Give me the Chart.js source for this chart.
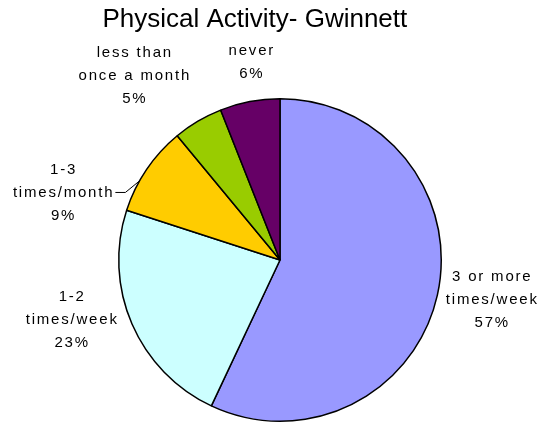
<!DOCTYPE html>
<html>
<head>
<meta charset="utf-8">
<title>Physical Activity- Gwinnett</title>
<script src="https://cdn.jsdelivr.net/npm/chart.js@4"></script>
<style>
  html, body { margin: 0; padding: 0; background: #fff; }
  canvas { display: block; }
</style>
</head>
<body>
<canvas id="pieChart" width="554" height="424"></canvas>
<script>
const chartTitle = "Physical Activity- Gwinnett";
const categories = [
    ["3 or more", "times/week"],
    ["1-2", "times/week"],
    ["1-3", "times/month"],
    ["less than", "once a month"],
    ["never"]
];
const percents = [57, 23, 9, 5, 6];
const sliceColors = ["#9999FF", "#CCFFFF", "#FFCC00", "#99CC00", "#660066"];

// label nudges from the radial anchor point (px)
const labelNudge = [[3, -7], [-11, -25], [-39, 53], [-36, 0], [12, 13]];

const labelPlugin = {
    id: "excelLabels",
    afterDraw(chart) {
        const ctx = chart.ctx;
        const arcs = chart.getDatasetMeta(0).data;
        ctx.save();
        ctx.fillStyle = "#000";
        ctx.textAlign = "center";
        ctx.textBaseline = "middle";

        // title
        ctx.font = "26px 'Liberation Sans', Arial, sans-serif";
        ctx.textBaseline = "alphabetic";
        ctx.fillText(chartTitle, chart.width * 0.46, 27);
        ctx.textBaseline = "middle";

        ctx.font = "15px 'Liberation Sans', Arial, sans-serif";
        if ("letterSpacing" in ctx) ctx.letterSpacing = "1.8px";
        arcs.forEach((arc, i) => {
            const mid = (arc.startAngle + arc.endAngle) / 2;
            const r = arc.outerRadius * 1.33;
            const x = arc.x + Math.cos(mid) * r + labelNudge[i][0];
            const lines = categories[i].concat([percents[i] + "%"]);
            const lh = 23;
            const y0 = arc.y + Math.sin(mid) * r + labelNudge[i][1] - (lines.length - 1) * lh / 2;
            lines.forEach((t, k) => ctx.fillText(t, x, y0 + k * lh));

            // leader line for the small slice on the left
            if (i === 2) {
                const w = ctx.measureText(lines[1]).width;
                const lx = x + w / 2 + 1;
                const ly = y0 + lh;
                const a = arc.startAngle + (arc.endAngle - arc.startAngle) * 0.35;
                const ex = arc.x + Math.cos(a) * arc.outerRadius;
                const ey = arc.y + Math.sin(a) * arc.outerRadius;
                ctx.strokeStyle = "#000";
                ctx.lineWidth = 1;
                ctx.beginPath();
                ctx.moveTo(lx, ly);
                ctx.lineTo(lx + 10, ly);
                ctx.lineTo(ex, ey);
                ctx.stroke();
            }
        });
        ctx.restore();
    }
};

new Chart(document.getElementById("pieChart"), {
    type: "pie",
    data: {
        labels: categories.map(c => c.join(" ")),
        datasets: [{
            data: percents,
            backgroundColor: sliceColors,
            borderColor: "#000",
            borderWidth: 1.5,
            borderAlign: "center"
        }]
    },
    options: {
        responsive: false,
        animation: false,
        layout: { padding: { top: 98, bottom: 2, left: 118, right: 112 } },
        plugins: {
            legend: { display: false },
            tooltip: { enabled: false },
            title: { display: false }
        }
    },
    plugins: [labelPlugin]
});
</script>
</body>
</html>
